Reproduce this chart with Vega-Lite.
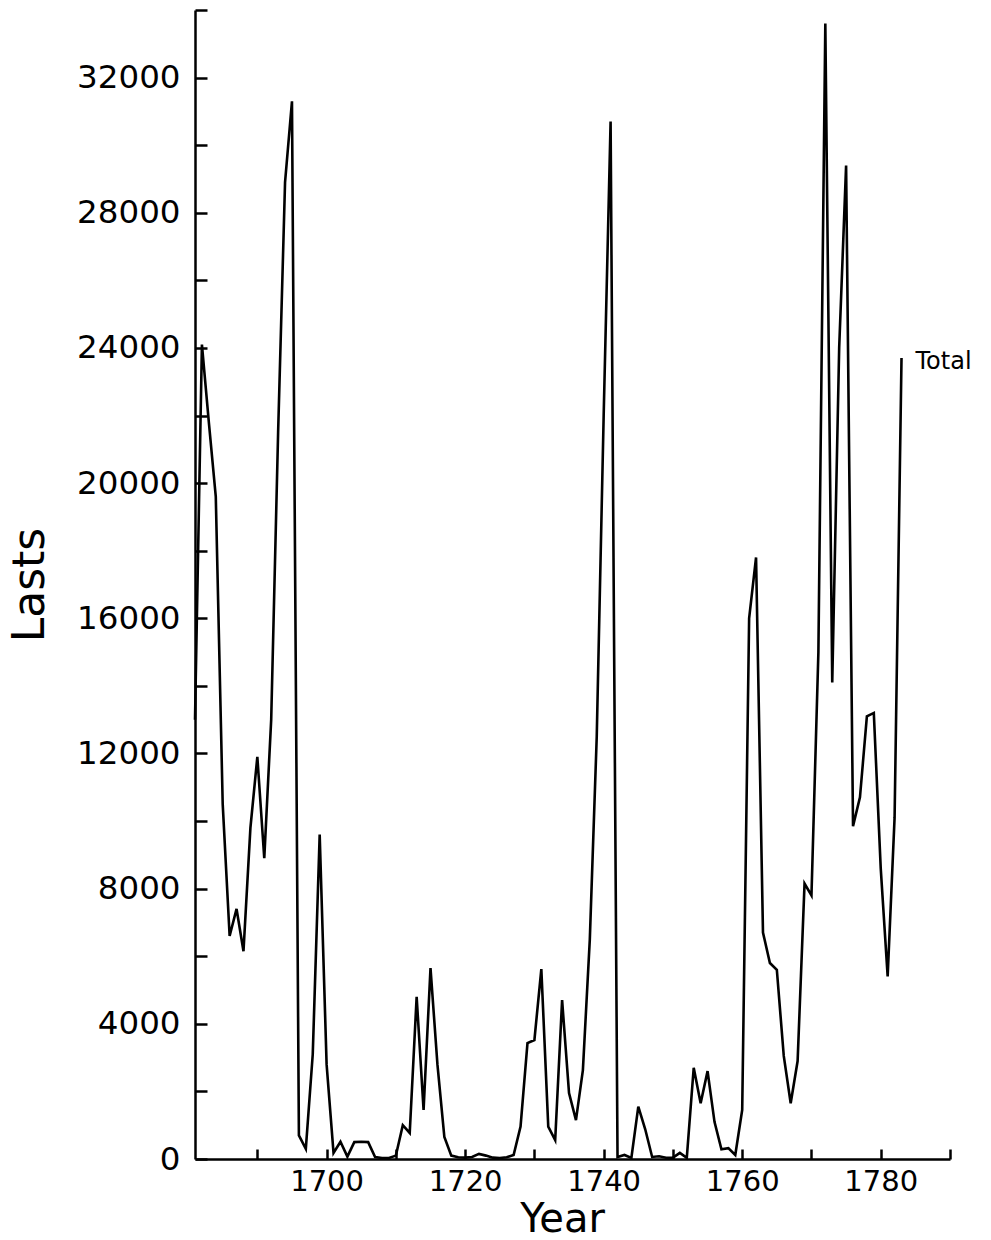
{
  "$schema": "https://vega.github.io/schema/vega-lite/v6.json",
  "width": 755,
  "height": 1149,
  "autosize": {"type": "none"},
  "padding": {"left": 195, "top": 10, "right": 41, "bottom": 81},
  "background": "white",
  "config": {"view": {"stroke": null}, "font": "DejaVu Sans"},
  "data": {"values": [
    {"year": 1681, "lasts": 13000}, {"year": 1682, "lasts": 24100}, {"year": 1683, "lasts": 21800}, {"year": 1684, "lasts": 19600},
    {"year": 1685, "lasts": 10500}, {"year": 1686, "lasts": 6600}, {"year": 1687, "lasts": 7400}, {"year": 1688, "lasts": 6150},
    {"year": 1689, "lasts": 9800}, {"year": 1690, "lasts": 11900}, {"year": 1691, "lasts": 8900}, {"year": 1692, "lasts": 13000},
    {"year": 1693, "lasts": 21500}, {"year": 1694, "lasts": 28900}, {"year": 1695, "lasts": 31300}, {"year": 1696, "lasts": 700},
    {"year": 1697, "lasts": 300}, {"year": 1698, "lasts": 3100}, {"year": 1699, "lasts": 9600}, {"year": 1700, "lasts": 2800},
    {"year": 1701, "lasts": 180}, {"year": 1702, "lasts": 510}, {"year": 1703, "lasts": 70}, {"year": 1704, "lasts": 500},
    {"year": 1705, "lasts": 510}, {"year": 1706, "lasts": 500}, {"year": 1707, "lasts": 60}, {"year": 1708, "lasts": 30},
    {"year": 1709, "lasts": 30}, {"year": 1710, "lasts": 100}, {"year": 1711, "lasts": 1000}, {"year": 1712, "lasts": 770},
    {"year": 1713, "lasts": 4800}, {"year": 1714, "lasts": 1450}, {"year": 1715, "lasts": 5650}, {"year": 1716, "lasts": 2800},
    {"year": 1717, "lasts": 650}, {"year": 1718, "lasts": 100}, {"year": 1719, "lasts": 50}, {"year": 1720, "lasts": 40},
    {"year": 1721, "lasts": 60}, {"year": 1722, "lasts": 150}, {"year": 1723, "lasts": 100}, {"year": 1724, "lasts": 40},
    {"year": 1725, "lasts": 30}, {"year": 1726, "lasts": 50}, {"year": 1727, "lasts": 120}, {"year": 1728, "lasts": 960},
    {"year": 1729, "lasts": 3430}, {"year": 1730, "lasts": 3520}, {"year": 1731, "lasts": 5620}, {"year": 1732, "lasts": 960},
    {"year": 1733, "lasts": 560}, {"year": 1734, "lasts": 4700}, {"year": 1735, "lasts": 1950}, {"year": 1736, "lasts": 1150},
    {"year": 1737, "lasts": 2630}, {"year": 1738, "lasts": 6500}, {"year": 1739, "lasts": 12500}, {"year": 1740, "lasts": 22000},
    {"year": 1741, "lasts": 30700}, {"year": 1742, "lasts": 60}, {"year": 1743, "lasts": 120}, {"year": 1744, "lasts": 30},
    {"year": 1745, "lasts": 1550}, {"year": 1746, "lasts": 880}, {"year": 1747, "lasts": 60}, {"year": 1748, "lasts": 80},
    {"year": 1749, "lasts": 35}, {"year": 1750, "lasts": 40}, {"year": 1751, "lasts": 180}, {"year": 1752, "lasts": 35},
    {"year": 1753, "lasts": 2700}, {"year": 1754, "lasts": 1650}, {"year": 1755, "lasts": 2600}, {"year": 1756, "lasts": 1100},
    {"year": 1757, "lasts": 290}, {"year": 1758, "lasts": 320}, {"year": 1759, "lasts": 120}, {"year": 1760, "lasts": 1450},
    {"year": 1761, "lasts": 16000}, {"year": 1762, "lasts": 17800}, {"year": 1763, "lasts": 6700}, {"year": 1764, "lasts": 5800},
    {"year": 1765, "lasts": 5600}, {"year": 1766, "lasts": 3050}, {"year": 1767, "lasts": 1650}, {"year": 1768, "lasts": 2900},
    {"year": 1769, "lasts": 8150}, {"year": 1770, "lasts": 7800}, {"year": 1771, "lasts": 15000}, {"year": 1772, "lasts": 33600},
    {"year": 1773, "lasts": 14100}, {"year": 1774, "lasts": 24000}, {"year": 1775, "lasts": 29400}, {"year": 1776, "lasts": 9850},
    {"year": 1777, "lasts": 10700}, {"year": 1778, "lasts": 13100}, {"year": 1779, "lasts": 13200}, {"year": 1780, "lasts": 8600},
    {"year": 1781, "lasts": 5400}, {"year": 1782, "lasts": 10100}, {"year": 1783, "lasts": 23700}
  ]},
  "encoding": {
    "x": {
      "field": "year", "type": "quantitative",
      "scale": {"domain": [1681, 1790], "nice": false, "zero": false},
      "axis": {
        "values": [1690, 1700, 1710, 1720, 1730, 1740, 1750, 1760, 1770, 1780, 1790],
        "format": "d",
        "labelExpr": "datum.value % 20 === 0 ? datum.label : ''",
        "grid": false, "tickSize": -10, "tickWidth": 2.5, "tickColor": "black",
        "domainColor": "black", "domainWidth": 2.5,
        "labelPadding": 18, "labelFontSize": 29, "labelColor": "black", "labelFlush": false, "labelOverlap": false,
        "title": "Year", "titleFontSize": 40, "titleFontWeight": "normal", "titleColor": "black", "titlePadding": 3,
        "titleX": 367
      }
    },
    "y": {
      "field": "lasts", "type": "quantitative",
      "scale": {"domain": [0, 34000], "nice": false},
      "axis": {
        "values": [0, 2000, 4000, 6000, 8000, 10000, 12000, 14000, 16000, 18000, 20000, 22000, 24000, 26000, 28000, 30000, 32000, 34000],
        "format": "d",
        "labelExpr": "datum.value % 4000 === 0 ? datum.label : ''",
        "grid": false, "tickSize": -12, "tickWidth": 2.5, "tickColor": "black",
        "domainColor": "black", "domainWidth": 2.5,
        "labelPadding": 27, "labelFontSize": 32.5, "labelColor": "black", "labelFlush": false, "labelOverlap": false,
        "title": "Lasts", "titleFontSize": 44, "titleFontWeight": "normal", "titleColor": "black", "titlePadding": 24
      }
    }
  },
  "layer": [
    {"mark": {"type": "line", "color": "black", "strokeWidth": 2.6}},
    {
      "transform": [{"filter": "datum.year === 1783"}],
      "mark": {"type": "text", "align": "left", "baseline": "middle", "dx": 14, "dy": 4, "fontSize": 24, "color": "black"},
      "encoding": {"text": {"value": "Total"}}
    }
  ]
}
